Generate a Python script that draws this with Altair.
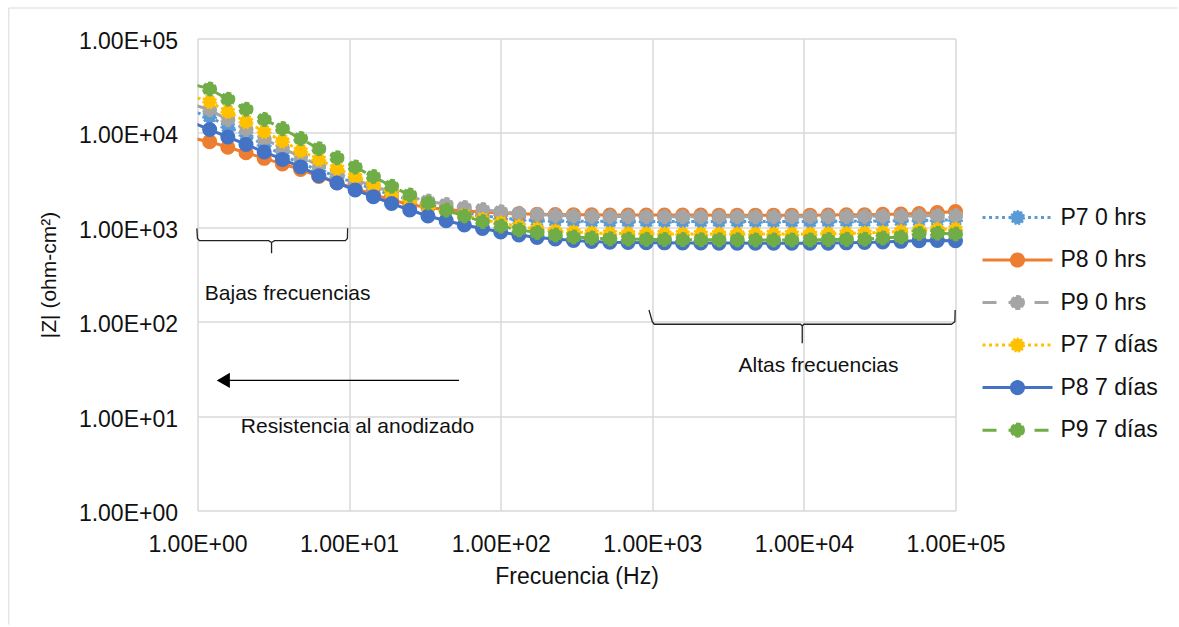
import altair as alt
import pandas as pd

# ---------------- data ----------------
freq = [0.912, 1.202, 1.585, 2.089, 2.754, 3.631, 4.786, 6.310, 8.318, 10.965,
        14.454, 19.055, 25.119, 33.113, 43.652, 57.544, 75.858, 100.0,
        131.83, 173.78, 229.09, 301.99, 398.11, 524.81, 691.83, 912.01,
        1202.3, 1584.9, 2089.3, 2754.2, 3630.8, 4786.3, 6309.6, 8317.6,
        10965.0, 14454.0, 19055.0, 25119.0, 33113.0, 43652.0, 57544.0, 75858.0, 100000.0]

p7_0h = [17060, 14860, 11640, 9500, 7450, 5840, 4760, 4050, 3440, 2945, 2545, 2200, 1946, 1722, 1564, 1436, 1334, 1254,
         1210, 1181, 1167, 1160, 1158, 1155, 1155, 1155, 1155, 1155, 1155, 1155, 1155, 1155, 1155, 1155, 1155, 1158, 1160,
         1165, 1170, 1175, 1180, 1190, 1200]
p8_0h = [8830, 8070, 7040, 6170, 5380, 4690, 4100, 3455, 2966, 2587, 2228, 1946, 1744, 1622, 1545, 1490, 1453, 1417,
         1390, 1375, 1365, 1360, 1355, 1350, 1350, 1350, 1350, 1350, 1350, 1345, 1345, 1345, 1345, 1345, 1345, 1350, 1355,
         1360, 1370, 1380, 1400, 1430, 1470]
p9_0h = [20200, 17600, 13800, 10820, 8620, 6910, 5550, 4570, 3760, 3170, 2740, 2366, 2095, 1900, 1746, 1622, 1545, 1463,
         1407, 1367, 1334, 1318, 1305, 1300, 1298, 1296, 1295, 1295, 1295, 1295, 1295, 1295, 1295, 1295, 1295, 1298, 1300,
         1305, 1310, 1315, 1320, 1325, 1330]
p7_7d = [24600, 21400, 16800, 13150, 10300, 8210, 6470, 5250, 4220, 3440, 2810, 2290, 1945, 1682, 1490, 1334, 1210, 1112,
         1020, 959, 914, 891, 871, 862, 858, 855, 852, 850, 850, 850, 850, 850, 850, 850, 850, 855, 860,
         870, 885, 905, 930, 950, 955]
p8_7d = [13030, 10860, 9050, 7540, 6280, 5230, 4360, 3520, 2950, 2485, 2110, 1787, 1525, 1318, 1175, 1057, 971, 891,
         828, 779, 751, 724, 707, 695, 690, 688, 685, 683, 682, 680, 680, 678, 678, 678, 678, 680, 685,
         690, 700, 710, 720, 725, 720]
p9_7d = [33000, 29200, 22700, 17800, 13900, 11100, 8700, 6800, 5450, 4350, 3450, 2720, 2200, 1810, 1520, 1320, 1150, 1030,
         940, 880, 830, 790, 770, 755, 750, 745, 742, 740, 738, 736, 736, 735, 735, 735, 735, 740, 745,
         748, 770, 790, 860, 865, 850]

series_names = ["P7 0 hrs", "P8 0 hrs", "P9 0 hrs", "P7 7 días", "P8 7 días", "P9 7 días"]
series_values = [p7_0h, p8_0h, p9_0h, p7_7d, p8_7d, p9_7d]

tick_values = [1, 10, 100, 1000, 10000, 100000]

# annotation anchors (data units: Hz, ohm-cm2)
brace_low_f = [0.99, 1.0, 1.03, 2.95, 3.08, 3.08, 3.08, 3.22, 9.45, 9.75, 9.78]
brace_low_z = [975, 760, 721, 721, 690, 531, 690, 721, 721, 760, 975]
brace_high_f = [951, 1000, 1030, 9500, 9750, 9750, 9750, 10000, 94000, 99000, 99500]
brace_high_z = [133, 100, 94, 94, 90, 59, 90, 94, 94, 100, 133]
arrow_f = [53.1, 1.40]
arrow_z = [23.9, 23.9]
arrow_head_f = [1.48]
arrow_head_z = [23.9]
ann_text = ["Bajas frecuencias", "Resistencia al anodizado", "Altas frecuencias"]
ann_f = [1.117, 1.93, 3710]
ann_z = [196, 7.73, 34.0]

# ---------------- styles ----------------
colors = ["#5B9BD5", "#ED7D31", "#A5A5A5", "#FFC000", "#4472C4", "#70AD47"]
line_dash = [[3, 3.5], [1, 0], [14, 12], [3, 3.5], [1, 0], [14, 12]]
marker_dash = [[2, 1.6], [1, 0], [5, 2], [2, 1.6], [1, 0], [5, 2]]
FONT = "Liberation Sans"
GRID = "#D9D9D9"
TXT = "#111111"
MSIZE = 165

rows = []
for name, vals in zip(series_names, series_values):
    for f, z in zip(freq, vals):
        rows.append({"serie": name, "f": f, "z": z})
df = pd.DataFrame(rows)

xscale = alt.Scale(type="log", domain=[1, 100000])
yscale = alt.Scale(type="log", domain=[1, 100000])
label_expr = "'1.00E+0' + round(log(datum.value) / LN10)"

xaxis = alt.Axis(values=tick_values, labelExpr=label_expr, grid=True, gridColor=GRID, gridWidth=1.5,
                 domain=False, ticks=False, labelFlush=False, labelOverlap=False,
                 labelFont=FONT, labelFontSize=23, labelColor=TXT, labelPadding=23,
                 title="Frecuencia (Hz)", titleFont=FONT, titleFontSize=23, titleFontWeight="normal",
                 titleColor=TXT, titlePadding=9)
yaxis = alt.Axis(values=tick_values, labelExpr=label_expr, grid=True, gridColor=GRID, gridWidth=1.5,
                 domain=False, ticks=False, labelFlush=False, labelOverlap=False, labelOffset=3,
                 labelFont=FONT, labelFontSize=23, labelColor=TXT, labelPadding=20,
                 title="|Z| (ohm-cm²)", titleFont=FONT, titleFontSize=21, titleFontWeight="normal",
                 titleColor=TXT, titlePadding=18.5)

X = alt.X("f:Q", scale=xscale, axis=xaxis)
Y = alt.Y("z:Q", scale=yscale, axis=yaxis)

layers = []
for name, col, ld, md in zip(series_names, colors, line_dash, marker_dash):
    base = alt.Chart(df).transform_filter(alt.datum.serie == name)
    line_kw = dict(color=col, strokeWidth=3, clip=True)
    if ld != [1, 0]:
        line_kw["strokeDash"] = ld
    pt_kw = dict(shape="circle", filled=True, fill=col, stroke=col, strokeWidth=2.2, size=MSIZE, opacity=1)
    if md != [1, 0]:
        pt_kw["strokeDash"] = md
    layers.append(base.mark_line(**line_kw).encode(x=X, y=Y))
    layers.append(base.transform_filter(alt.datum.f >= 1).mark_point(**pt_kw).encode(x=X, y=Y))

bl = pd.DataFrame({"f": brace_low_f, "z": brace_low_z, "i": list(range(len(brace_low_f)))})
bh = pd.DataFrame({"f": brace_high_f, "z": brace_high_z, "i": list(range(len(brace_high_f)))})
for b in (bl, bh):
    layers.append(alt.Chart(b).mark_line(color="#222222", strokeWidth=1.3, clip=False)
                  .encode(x=X, y=Y, order="i:Q"))

arr = pd.DataFrame({"f": arrow_f, "z": arrow_z, "i": [0, 1]})
layers.append(alt.Chart(arr).mark_line(color="#000000", strokeWidth=1.3).encode(x=X, y=Y, order="i:Q"))
arrh = pd.DataFrame({"f": arrow_head_f, "z": arrow_head_z})
layers.append(alt.Chart(arrh).mark_point(shape="triangle-left", filled=True, fill="#000000", size=230,
                                          opacity=1, strokeWidth=0).encode(x=X, y=Y))

ann = pd.DataFrame({"t": ann_text, "f": ann_f, "z": ann_z})
layers.append(alt.Chart(ann).mark_text(align="left", baseline="middle", font=FONT, fontSize=21, color=TXT)
              .encode(x=X, y=Y, text="t:N"))

# chart-area frame (decoration, top and left edges of the outer border)
layers.append(alt.Chart(pd.DataFrame({"k": [0]})).mark_rule(color=GRID, strokeWidth=1)
              .encode(x=alt.value(-188.7), x2=alt.value(980), y=alt.value(-30.5)))
layers.append(alt.Chart(pd.DataFrame({"k": [0]})).mark_rule(color=GRID, strokeWidth=1)
              .encode(x=alt.value(-188.7), y=alt.value(-30.5), y2=alt.value(586)))

main = alt.layer(*layers).properties(width=758, height=472)

# ---------------- legend panel ----------------
leg = pd.DataFrame({"serie": series_names, "i": list(range(len(series_names))),
                    "x0": [7] * 6, "x1": [77] * 6, "xm": [42] * 6, "xt": [85] * 6})
lx = alt.Scale(domain=[0, 190])
ly = alt.Scale(domain=[-4.21, 6.89], reverse=True)
cscale = alt.Scale(domain=series_names, range=colors)
dscale = alt.Scale(domain=series_names, range=line_dash)
mscale = alt.Scale(domain=series_names, range=marker_dash)
lbase = alt.Chart(leg)
leg_line = lbase.mark_rule(strokeWidth=3).encode(
    x=alt.X("x0:Q", scale=lx, axis=None), x2="x1:Q",
    y=alt.Y("i:Q", scale=ly, axis=None),
    color=alt.Color("serie:N", scale=cscale, legend=None),
    strokeDash=alt.StrokeDash("serie:N", scale=dscale, legend=None))
leg_pt = lbase.mark_point(shape="circle", filled=True, size=MSIZE, strokeWidth=2.2, opacity=1).encode(
    x=alt.X("xm:Q", scale=lx, axis=None), y=alt.Y("i:Q", scale=ly, axis=None),
    fill=alt.Fill("serie:N", scale=cscale, legend=None),
    stroke=alt.Stroke("serie:N", scale=cscale, legend=None),
    strokeDash=alt.StrokeDash("serie:N", scale=mscale, legend=None))
leg_txt = lbase.mark_text(align="left", baseline="middle", font=FONT, fontSize=23, color=TXT).encode(
    x=alt.X("xt:Q", scale=lx, axis=None), y=alt.Y("i:Q", scale=ly, axis=None), text="serie:N")
legend = alt.layer(leg_line, leg_pt, leg_txt).resolve_scale(strokeDash="independent").properties(width=190, height=472)

chart = (alt.hconcat(main, legend, spacing=20, bounds="flush")
         .properties(padding={"left": 7.5, "top": 7.5, "right": 0, "bottom": 0}, background="white")
         .configure_view(stroke=None))

chart.save("out.html", embed_options={"renderer": "svg", "actions": False})
